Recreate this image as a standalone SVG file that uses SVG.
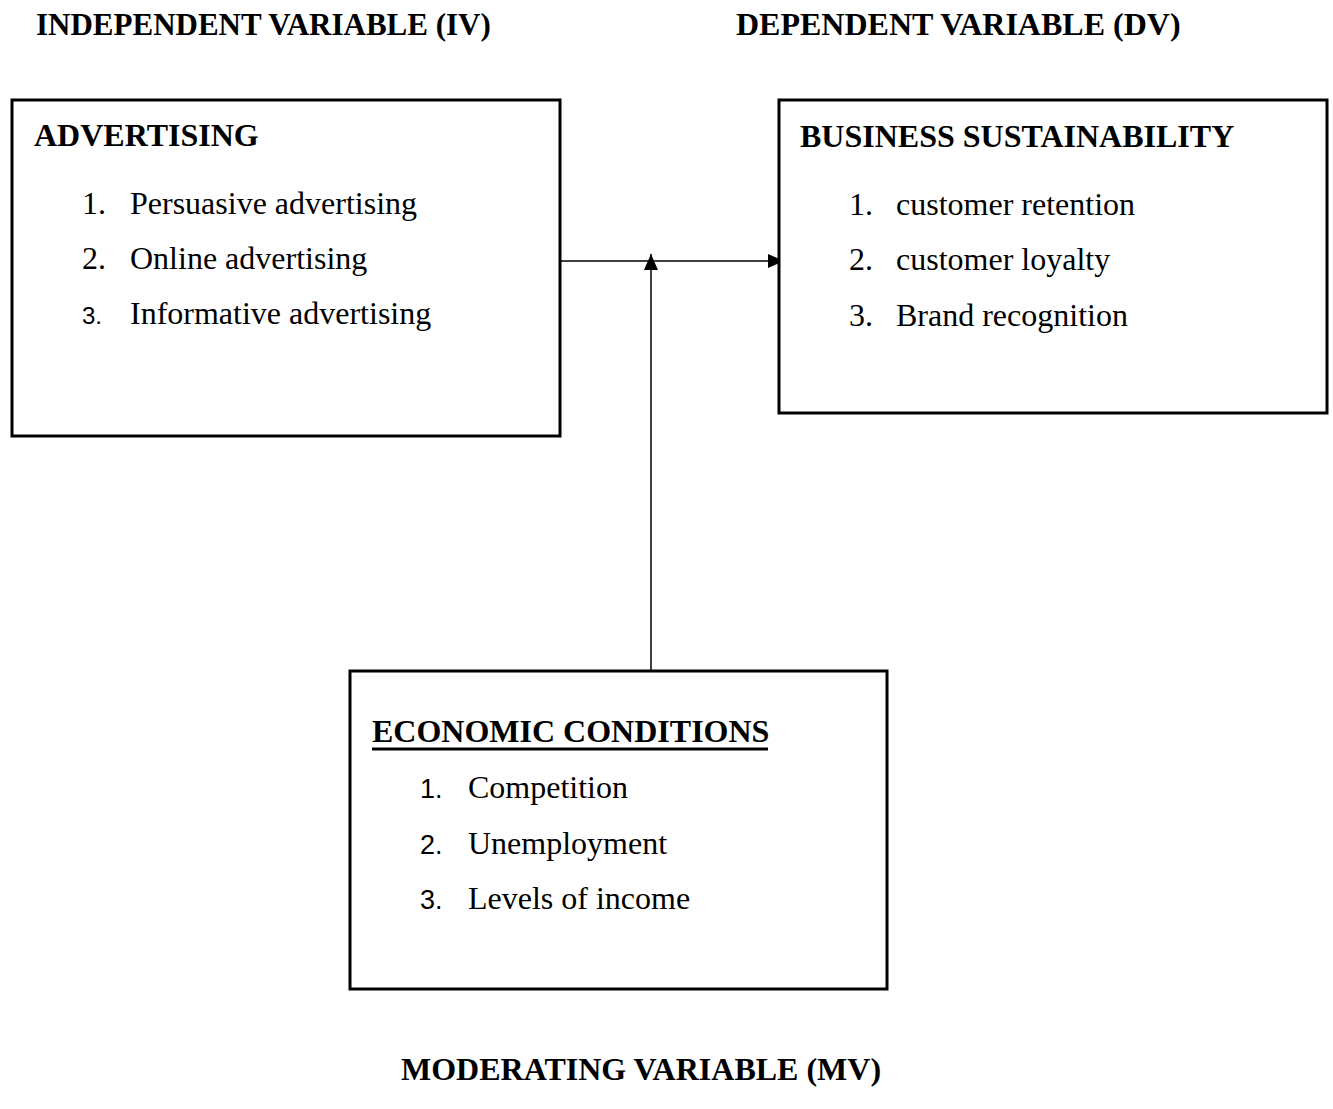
<svg xmlns="http://www.w3.org/2000/svg" width="1333" height="1109" viewBox="0 0 1333 1109">
<style>
.box{fill:#fff;stroke:#000;stroke-width:3}
.h{font-family:"Liberation Serif","Times New Roman",serif;font-weight:bold;font-size:32px;fill:#000}
.t{font-family:"Liberation Serif","Times New Roman",serif;font-size:32px;fill:#000}
.s{font-family:"Liberation Sans",Arial,sans-serif;font-size:27px;fill:#000}
.c{stroke:#000;stroke-width:1.5;fill:none}
</style>
<defs>
<marker id="ah" viewBox="0 0 16 14" refX="16" refY="7" markerWidth="16" markerHeight="14" markerUnits="userSpaceOnUse" orient="auto">
<path d="M0,0 L16,7 L0,14 z" fill="#000"/>
</marker>
</defs>
<rect width="1333" height="1109" fill="#fff"/>
<text class="h" x="36" y="35" style="font-size:31px">INDEPENDENT VARIABLE (IV)</text>
<text class="h" x="736" y="35">DEPENDENT VARIABLE (DV)</text>
<text class="h" x="401" y="1080">MODERATING VARIABLE (MV)</text>
<g id="connectors">
<line class="c" x1="560" y1="261" x2="784" y2="261" marker-end="url(#ah)"/>
<line class="c" x1="651" y1="671" x2="651" y2="254" marker-end="url(#ah)"/>
</g>
<g id="advertising">
<rect class="box" x="12" y="100" width="548" height="336"/>
<text class="h" x="34" y="146">ADVERTISING</text>
<text class="t" x="82" y="214">1.</text><text class="t" x="130" y="214">Persuasive advertising</text>
<text class="t" x="82" y="269">2.</text><text class="t" x="130" y="269">Online advertising</text>
<text class="s" x="82" y="324" style="font-size:24px">3.</text><text class="t" x="130" y="324">Informative advertising</text>
</g>
<g id="business-sustainability">
<rect class="box" x="779" y="100" width="548" height="313"/>
<text class="h" x="800" y="147">BUSINESS SUSTAINABILITY</text>
<text class="t" x="849" y="215">1.</text><text class="t" x="896" y="215">customer retention</text>
<text class="t" x="849" y="270">2.</text><text class="t" x="896" y="270">customer loyalty</text>
<text class="t" x="849" y="326">3.</text><text class="t" x="896" y="326">Brand recognition</text>
</g>
<g id="economic-conditions">
<rect class="box" x="350" y="671" width="537" height="318"/>
<text class="h" x="372" y="742">ECONOMIC CONDITIONS</text>
<line x1="372" y1="749" x2="768" y2="749" stroke="#000" stroke-width="3"/>
<text class="s" x="420" y="798">1.</text><text class="t" x="468" y="798">Competition</text>
<text class="s" x="420" y="854">2.</text><text class="t" x="468" y="854">Unemployment</text>
<text class="s" x="420" y="909">3.</text><text class="t" x="468" y="909">Levels of income</text>
</g>
</svg>
